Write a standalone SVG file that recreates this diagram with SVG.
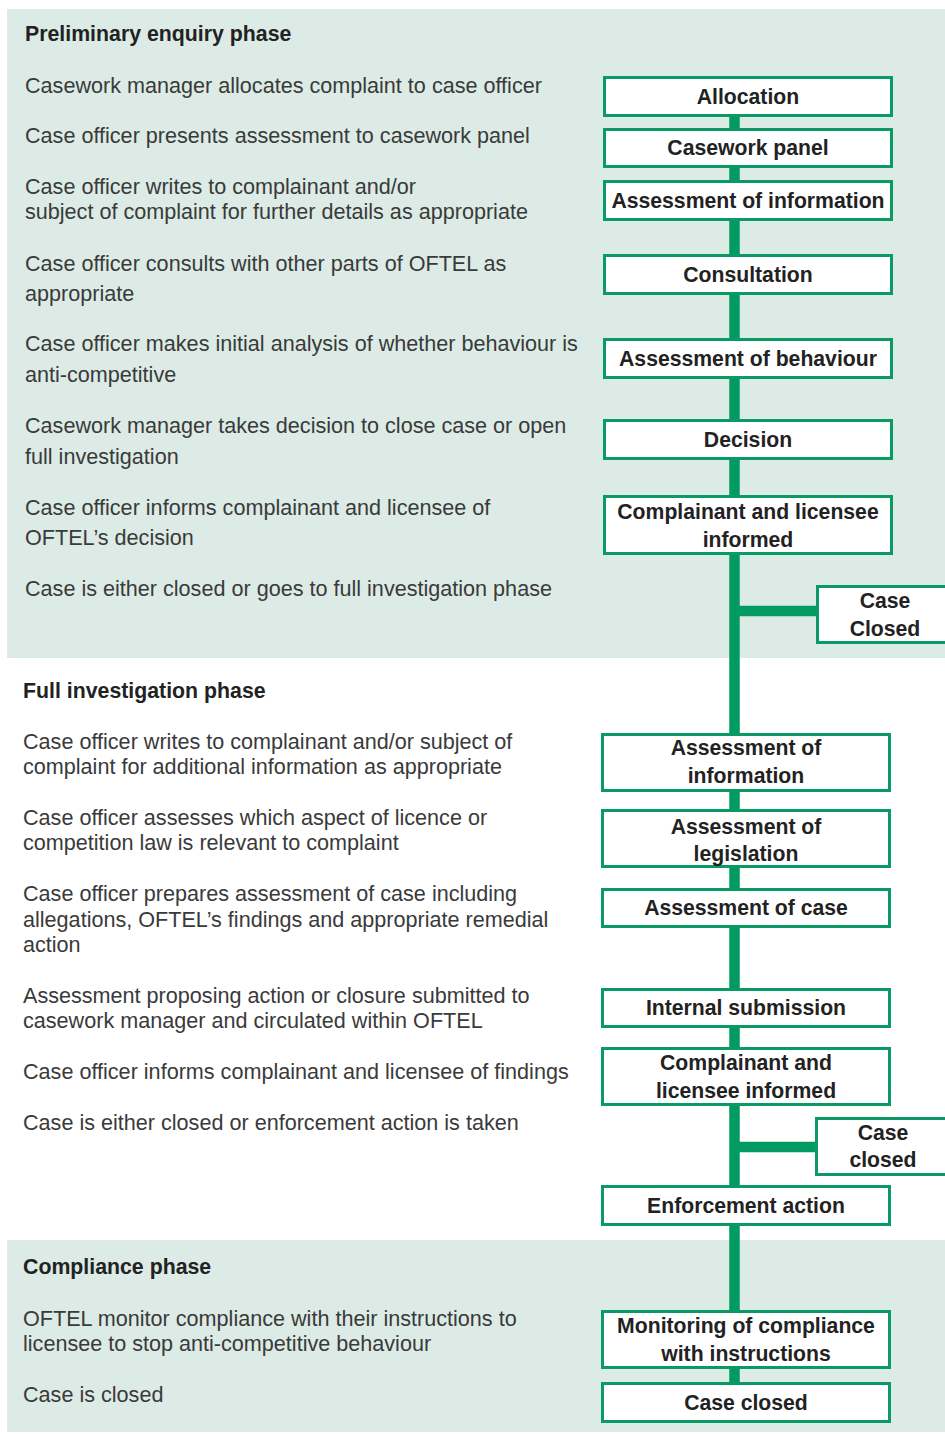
<svg xmlns="http://www.w3.org/2000/svg" width="945" height="1434" viewBox="0 0 945 1434">
<style>
.panel{fill:#dcebe5}
.box{fill:#ffffff;stroke:#0a9a64;stroke-width:3}
.conn{stroke:#009a62;stroke-width:10.5;fill:none}
.head{font-family:"Liberation Sans",Arial,sans-serif;font-weight:bold;font-size:21.3px;fill:#222}
.body{font-family:"Liberation Sans",Arial,sans-serif;font-size:21.6px;fill:#3a3a3a}
.lbl{font-family:"Liberation Sans",Arial,sans-serif;font-weight:bold;font-size:21.2px;fill:#222;text-anchor:middle}
</style>
<rect width="945" height="1434" fill="#ffffff"/>
<g id="panels">
<rect class="panel" x="7" y="9" width="938" height="649"/>
<rect class="panel" x="7" y="1240" width="938" height="192"/>
</g>
<g id="left-text">
<text class="head" x="25" y="41">Preliminary enquiry phase</text>
<text class="body" x="25" y="93">Casework manager allocates complaint to case officer</text>
<text class="body" x="25" y="143">Case officer presents assessment to casework panel</text>
<text class="body" x="25" y="194">Case officer writes to complainant and/or</text>
<text class="body" x="25" y="219">subject of complaint for further details as appropriate</text>
<text class="body" x="25" y="271">Case officer consults with other parts of OFTEL as</text>
<text class="body" x="25" y="301">appropriate</text>
<text class="body" x="25" y="351">Case officer makes initial analysis of whether behaviour is</text>
<text class="body" x="25" y="382">anti-competitive</text>
<text class="body" x="25" y="433">Casework manager takes decision to close case or open</text>
<text class="body" x="25" y="464">full investigation</text>
<text class="body" x="25" y="515">Case officer informs complainant and licensee of</text>
<text class="body" x="25" y="545">OFTEL’s decision</text>
<text class="body" x="25" y="596">Case is either closed or goes to full investigation phase</text>
<text class="head" x="23" y="698">Full investigation phase</text>
<text class="body" x="23" y="749">Case officer writes to complainant and/or subject of</text>
<text class="body" x="23" y="774">complaint for additional information as appropriate</text>
<text class="body" x="23" y="825">Case officer assesses which aspect of licence or</text>
<text class="body" x="23" y="850">competition law is relevant to complaint</text>
<text class="body" x="23" y="901">Case officer prepares assessment of case including</text>
<text class="body" x="23" y="927">allegations, OFTEL’s findings and appropriate remedial</text>
<text class="body" x="23" y="952">action</text>
<text class="body" x="23" y="1003">Assessment proposing action or closure submitted to</text>
<text class="body" x="23" y="1028">casework manager and circulated within OFTEL</text>
<text class="body" x="23" y="1079">Case officer informs complainant and licensee of findings</text>
<text class="body" x="23" y="1130">Case is either closed or enforcement action is taken</text>
<text class="head" x="23" y="1274">Compliance phase</text>
<text class="body" x="23" y="1326">OFTEL monitor compliance with their instructions to</text>
<text class="body" x="23" y="1351">licensee to stop anti-competitive behaviour</text>
<text class="body" x="23" y="1402">Case is closed</text>
</g>
<g id="connectors">
<line class="conn" x1="734.5" y1="117" x2="734.5" y2="128"/>
<line class="conn" x1="734.5" y1="168" x2="734.5" y2="180"/>
<line class="conn" x1="734.5" y1="221" x2="734.5" y2="254"/>
<line class="conn" x1="734.5" y1="295" x2="734.5" y2="338"/>
<line class="conn" x1="734.5" y1="379" x2="734.5" y2="419"/>
<line class="conn" x1="734.5" y1="460" x2="734.5" y2="495"/>
<line class="conn" x1="734.5" y1="555" x2="734.5" y2="733"/>
<line class="conn" x1="734.5" y1="611" x2="817" y2="611"/>
<line class="conn" x1="734.5" y1="792" x2="734.5" y2="809"/>
<line class="conn" x1="734.5" y1="868" x2="734.5" y2="888"/>
<line class="conn" x1="734.5" y1="928" x2="734.5" y2="988"/>
<line class="conn" x1="734.5" y1="1028" x2="734.5" y2="1047"/>
<line class="conn" x1="734.5" y1="1106" x2="734.5" y2="1185"/>
<line class="conn" x1="734.5" y1="1147" x2="816" y2="1147"/>
<line class="conn" x1="734.5" y1="1226" x2="734.5" y2="1310"/>
<line class="conn" x1="734.5" y1="1369" x2="734.5" y2="1382"/>
</g>
<g id="n-allocation"><rect class="box" x="604.5" y="77.5" width="287" height="38"/><text class="lbl" x="748" y="104">Allocation</text></g>
<g id="n-casework-panel"><rect class="box" x="604.5" y="129.5" width="287" height="37"/><text class="lbl" x="748" y="155">Casework panel</text></g>
<g id="n-assess-info-1"><rect class="box" x="604.5" y="181.5" width="287" height="38"/><text class="lbl" x="748" y="208">Assessment of information</text></g>
<g id="n-consultation"><rect class="box" x="604.5" y="255.5" width="287" height="38"/><text class="lbl" x="748" y="282">Consultation</text></g>
<g id="n-assess-behaviour"><rect class="box" x="604.5" y="339.5" width="287" height="38"/><text class="lbl" x="748" y="366">Assessment of behaviour</text></g>
<g id="n-decision"><rect class="box" x="604.5" y="420.5" width="287" height="38"/><text class="lbl" x="748" y="447">Decision</text></g>
<g id="n-informed-1"><rect class="box" x="604.5" y="496.5" width="287" height="57"/><text class="lbl" x="748" y="519">Complainant and licensee</text><text class="lbl" x="748" y="547">informed</text></g>
<g id="n-case-closed-1"><rect class="box" x="817.5" y="586.5" width="140" height="56"/><text class="lbl" x="885" y="608">Case</text><text class="lbl" x="885" y="636">Closed</text></g>
<g id="n-assess-info-2"><rect class="box" x="602.5" y="734.5" width="287" height="56"/><text class="lbl" x="746" y="755">Assessment of</text><text class="lbl" x="746" y="783">information</text></g>
<g id="n-assess-legislation"><rect class="box" x="602.5" y="810.5" width="287" height="56"/><text class="lbl" x="746" y="834">Assessment of</text><text class="lbl" x="746" y="861">legislation</text></g>
<g id="n-assess-case"><rect class="box" x="602.5" y="889.5" width="287" height="37"/><text class="lbl" x="746" y="915">Assessment of case</text></g>
<g id="n-internal-submission"><rect class="box" x="602.5" y="989.5" width="287" height="37"/><text class="lbl" x="746" y="1015">Internal submission</text></g>
<g id="n-informed-2"><rect class="box" x="602.5" y="1048.5" width="287" height="56"/><text class="lbl" x="746" y="1070">Complainant and</text><text class="lbl" x="746" y="1098">licensee informed</text></g>
<g id="n-case-closed-2"><rect class="box" x="816.5" y="1118.5" width="140" height="56"/><text class="lbl" x="883" y="1140">Case</text><text class="lbl" x="883" y="1167">closed</text></g>
<g id="n-enforcement"><rect class="box" x="602.5" y="1186.5" width="287" height="38"/><text class="lbl" x="746" y="1213">Enforcement action</text></g>
<g id="n-monitoring"><rect class="box" x="602.5" y="1311.5" width="287" height="56"/><text class="lbl" x="746" y="1333">Monitoring of compliance</text><text class="lbl" x="746" y="1361">with instructions</text></g>
<g id="n-case-closed-3"><rect class="box" x="602.5" y="1383.5" width="287" height="38"/><text class="lbl" x="746" y="1410">Case closed</text></g>
</svg>
